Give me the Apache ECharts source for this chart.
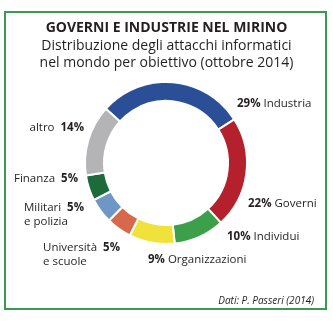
<!DOCTYPE html>
<html><head><meta charset="utf-8">
<script src="https://cdn.jsdelivr.net/npm/echarts@6/dist/echarts.min.js"></script>
<style>html,body{margin:0;padding:0;background:#fff}#c{width:333px;height:321px}</style>
</head><body><div id="c"></div>
<script>
const categories = ['Industria','Governi','Individui','Organizzazioni','Università e scuole','Militari e polizia','Finanza','altro'];
const values = [29,22,10,9,5,5,5,14];
const colors = ['#2b4f97','#b4202b','#3ba049','#f1e23b','#d8684b','#6f97c5','#1d6b3b','#b4b4b6'];
// label anchor positions [x, top y, align]
const labelPos = [[237,97,'left'],[248,197,'left'],[227,230,'left'],[148,253,'left'],[43,241,'left'],[24,201,'left'],[78,172,'right'],[84,121,'right']];

function fmt(p){
  const i = p.dataIndex, v = values[i], n = categories[i];
  if (i <= 3) return '{p|' + v + '%} ' + n;
  if (i === 4 || i === 5) { const k = n.indexOf(' '); return n.slice(0,k) + '  {p|' + v + '%}\n' + n.slice(k+1); }
  return n + '  {p|' + v + '%}';
}

const chart = echarts.init(document.getElementById('c'));
chart.setOption({
  animation:false,
  title:{left:'center', top:16, text:'GOVERNI E INDUSTRIE NEL MIRINO',
    textStyle:{fontFamily:'Open Sans', fontWeight:'bold', fontSize:14, color:'#231f20'},
    subtext:'Distribuzione degli attacchi informatici\nnel mondo per obiettivo (ottobre 2014)',
    subtextStyle:{fontFamily:'Open Sans', fontSize:14, color:'#231f20', lineHeight:17}, itemGap:3},
  graphic:[
    {type:'rect', shape:{x:5, y:12, width:321, height:297}, style:{fill:'none', stroke:'#3a9a4e', lineWidth:2}},
    {type:'text', right:19, top:296, style:{text:'Dati: P. Passeri (2014)', font:'italic 10px "Open Sans"', fill:'#231f20'}}
  ],
  series:[{
    type:'pie', center:[166,163], radius:[62,81], startAngle:138, clockwise:true,
    itemStyle:{borderColor:'#fff', borderWidth:2},
    label:{show:true, position:'outside', formatter:fmt, overflow:'none', fontFamily:'Open Sans', fontSize:11.5, color:'#231f20', lineHeight:14,
      rich:{p:{fontFamily:'Open Sans', fontWeight:'bold', fontSize:11.5, color:'#231f20'}}},
    labelLine:{show:false},
    labelLayout:function(p){ const q = labelPos[p.dataIndex]; return {x:q[0], y:q[1], align:q[2], verticalAlign:'top'}; },
    emphasis:{disabled:true},
    data: categories.map((n,i)=>({name:n, value:values[i], itemStyle:{color:colors[i]}}))
  }]
});
</script></body></html>
